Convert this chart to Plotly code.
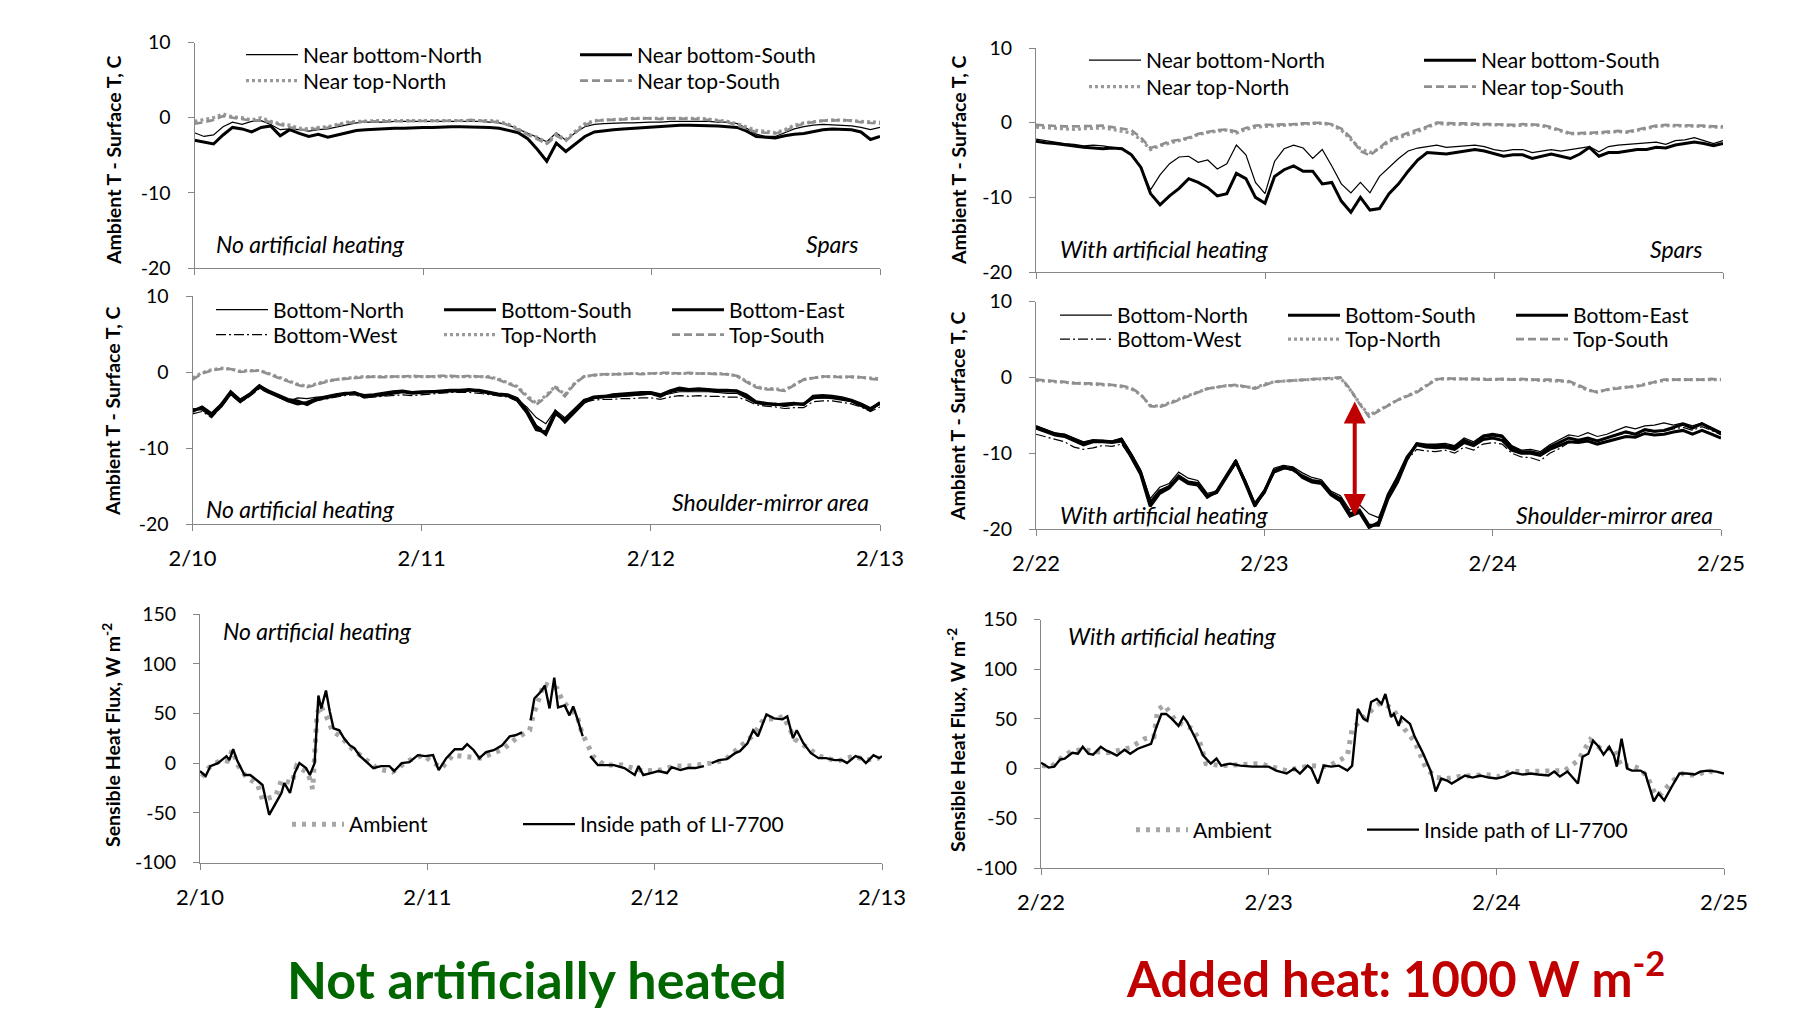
import plotly.graph_objects as go

# ---------------- data (hourly, hour 0 = first day 00:00) ----------------
HOURS = list(range(73))
LEFT_DAYS = ["2/10", "2/11", "2/12", "2/13"]
RIGHT_DAYS = ["2/22", "2/23", "2/24", "2/25"]
DAY_TICKS = [0, 24, 48, 72]
T_TICKS = [-20, -10, 0, 10]
T_LABELS = ["-20", "-10", "0", "10"]
F_TICKS = [-100, -50, 0, 50, 100, 150]
F_LABELS = ["-100", "-50", "0", "50", "100", "150"]

# Top-left: spars, no artificial heating
tl_nb_north = [-2.0,-2.5,-2.3,-1.2,-0.6,-0.9,-0.5,-0.4,-0.9,-1.6,-1.5,-1.6,
               -1.8,-1.6,-1.5,-1.2,-0.9,-0.7,-0.6,-0.6,-0.6,-0.5,-0.5,-0.5,
               -0.5,-0.5,-0.5,-0.5,-0.5,-0.5,-0.5,-0.6,-0.7,-1.0,-1.5,-2.0,
               -2.6,-3.2,-2.0,-3.0,-2.0,-1.2,-0.9,-0.8,-0.7,-0.7,-0.7,-0.6,
               -0.6,-0.6,-0.5,-0.5,-0.5,-0.5,-0.5,-0.6,-0.6,-0.8,-1.4,-2.2,
               -2.5,-2.5,-2.0,-1.5,-1.2,-1.0,-0.9,-1.0,-1.0,-1.1,-1.3,-1.6,
               -1.3]
tl_nb_south = [-3.0,-3.3,-3.5,-2.3,-1.3,-1.5,-1.9,-1.3,-1.1,-2.4,-1.6,-2.1,
               -2.5,-2.2,-2.6,-2.3,-2.0,-1.7,-1.6,-1.5,-1.5,-1.4,-1.4,-1.3,
               -1.3,-1.3,-1.2,-1.2,-1.2,-1.2,-1.2,-1.3,-1.4,-1.7,-2.0,-2.8,
               -4.2,-5.8,-3.4,-4.5,-3.5,-2.5,-1.9,-1.7,-1.6,-1.5,-1.4,-1.4,
               -1.3,-1.2,-1.1,-1.0,-1.0,-1.0,-1.1,-1.1,-1.2,-1.3,-1.8,-2.5,
               -2.6,-2.7,-2.4,-2.2,-2.1,-1.8,-1.6,-1.5,-1.5,-1.6,-1.9,-2.9,
               -2.5]
tl_nt_north = [-0.5,-0.3,0.0,0.5,0.1,0.0,-0.3,0.0,-0.5,-0.8,-1.0,-1.4,
               -1.5,-1.3,-1.2,-0.9,-0.6,-0.5,-0.4,-0.4,-0.4,-0.4,-0.3,-0.4,
               -0.4,-0.4,-0.3,-0.3,-0.3,-0.3,-0.3,-0.4,-0.5,-0.9,-1.5,-2.2,
               -2.6,-3.3,-2.2,-2.9,-1.8,-0.8,-0.4,-0.3,-0.2,-0.2,-0.1,-0.1,
               -0.1,-0.1,0.0,0.0,-0.1,-0.1,-0.2,-0.3,-0.5,-0.8,-1.3,-1.7,
               -1.8,-2.0,-1.6,-1.0,-0.7,-0.5,-0.4,-0.3,-0.3,-0.4,-0.5,-0.6,
               -0.6]
tl_nt_south = [-0.8,-0.6,-0.3,0.2,0.0,-0.2,-0.4,-0.3,-0.6,-1.0,-1.3,-1.6,
               -1.6,-1.4,-1.3,-1.0,-0.7,-0.6,-0.5,-0.5,-0.5,-0.5,-0.4,-0.4,
               -0.5,-0.5,-0.4,-0.4,-0.4,-0.3,-0.4,-0.5,-0.6,-1.0,-1.6,-2.3,
               -2.8,-3.5,-2.4,-3.1,-2.0,-1.0,-0.5,-0.3,-0.3,-0.2,-0.2,-0.1,
               -0.1,-0.2,-0.1,-0.1,-0.2,-0.2,-0.3,-0.4,-0.6,-1.0,-1.5,-1.9,
               -2.0,-2.1,-1.8,-1.2,-0.8,-0.6,-0.4,-0.4,-0.3,-0.4,-0.6,-0.7,
               -0.8]

# Middle-left: shoulder-mirror area, no artificial heating
ml_b_north = [-4.8,-5.0,-5.9,-4.2,-2.7,-4.0,-3.1,-2.1,-2.8,-3.3,-3.9,-3.4,
              -3.5,-3.3,-3.3,-3.0,-2.8,-2.8,-3.1,-3.1,-2.9,-2.7,-2.6,-2.7,
              -2.6,-2.5,-2.5,-2.4,-2.4,-2.4,-2.5,-2.7,-2.9,-3.2,-3.6,-4.6,
              -6.0,-6.8,-5.0,-6.0,-4.8,-3.6,-3.4,-3.3,-3.3,-3.2,-3.1,-3.0,
              -2.9,-3.1,-2.8,-2.6,-2.6,-2.6,-2.6,-2.7,-2.8,-2.8,-3.4,-4.1,
              -4.3,-4.2,-4.5,-4.3,-4.1,-3.5,-3.4,-3.4,-3.6,-3.9,-4.5,-4.9,
              -4.3]
ml_b_south = [-5.0,-4.8,-5.7,-4.5,-2.8,-3.9,-3.0,-1.9,-2.5,-3.0,-3.6,-3.8,
              -4.3,-3.6,-3.4,-3.1,-2.9,-2.7,-3.3,-3.1,-3.0,-2.8,-2.6,-2.8,
              -2.7,-2.6,-2.6,-2.5,-2.5,-2.4,-2.4,-2.7,-2.9,-3.0,-3.5,-5.0,
              -7.2,-8.2,-5.5,-6.3,-5.0,-3.8,-3.3,-3.2,-3.2,-3.1,-3.0,-2.9,
              -2.8,-3.2,-2.6,-2.3,-2.4,-2.3,-2.4,-2.5,-2.5,-2.5,-3.2,-4.0,
              -4.2,-4.2,-4.4,-4.2,-4.2,-3.4,-3.3,-3.4,-3.6,-3.8,-4.4,-5.0,
              -4.0]
ml_b_east = [-5.2,-4.6,-5.5,-4.3,-2.6,-3.7,-2.9,-1.8,-2.6,-3.2,-3.8,-4.2,
             -4.0,-3.5,-3.2,-3.0,-2.8,-2.8,-3.1,-3.0,-2.8,-2.6,-2.5,-2.7,
             -2.6,-2.6,-2.5,-2.4,-2.4,-2.3,-2.5,-2.8,-3.0,-3.1,-3.7,-5.3,
             -7.6,-7.9,-5.2,-6.6,-5.3,-4.0,-3.4,-3.3,-3.0,-2.9,-2.8,-2.7,
             -2.7,-3.0,-2.5,-2.1,-2.3,-2.2,-2.3,-2.4,-2.4,-2.5,-3.0,-3.9,
             -4.1,-4.3,-4.2,-4.1,-4.3,-3.2,-3.1,-3.2,-3.4,-3.7,-4.2,-4.8,
             -4.1]
ml_b_west = [-5.5,-5.2,-6.0,-4.6,-3.0,-4.0,-3.2,-2.2,-2.8,-3.1,-3.7,-4.0,
             -4.2,-3.8,-3.5,-3.3,-3.1,-3.0,-3.4,-3.3,-3.2,-3.1,-3.0,-3.1,
             -3.0,-2.9,-2.8,-2.7,-2.7,-2.7,-2.8,-3.0,-3.2,-3.3,-3.8,-5.0,
             -7.0,-7.8,-5.6,-6.4,-5.2,-4.0,-3.7,-3.6,-3.6,-3.5,-3.5,-3.4,
             -3.4,-3.6,-3.3,-3.1,-3.2,-3.1,-3.2,-3.2,-3.3,-3.3,-3.7,-4.3,
             -4.5,-4.6,-4.8,-4.7,-4.7,-3.9,-3.8,-3.8,-4.0,-4.2,-4.6,-5.2,
             -4.6]
ml_t_north = [-0.8,-0.1,0.3,0.5,0.4,0.1,0.2,0.2,-0.2,-0.7,-1.2,-1.6,
              -1.9,-1.5,-1.2,-1.0,-0.8,-0.7,-0.6,-0.6,-0.6,-0.6,-0.5,-0.5,
              -0.5,-0.5,-0.5,-0.5,-0.5,-0.5,-0.5,-0.6,-0.9,-1.4,-1.9,-3.1,
              -4.1,-3.1,-1.9,-3.0,-1.5,-0.6,-0.4,-0.3,-0.3,-0.2,-0.2,-0.2,
              -0.2,-0.1,-0.1,-0.1,-0.1,-0.2,-0.2,-0.2,-0.3,-0.5,-1.2,-1.9,
              -2.2,-2.2,-2.4,-1.7,-1.0,-0.8,-0.6,-0.6,-0.6,-0.6,-0.7,-0.8,
              -0.9]
ml_t_south = [-1.0,-0.2,0.2,0.4,0.4,0.0,0.1,0.2,-0.3,-0.8,-1.3,-1.7,
              -2.0,-1.6,-1.3,-1.0,-0.9,-0.8,-0.7,-0.6,-0.7,-0.6,-0.6,-0.5,
              -0.6,-0.6,-0.5,-0.5,-0.6,-0.5,-0.6,-0.7,-1.0,-1.5,-2.0,-3.3,
              -4.3,-3.3,-2.0,-3.2,-1.6,-0.6,-0.4,-0.3,-0.3,-0.3,-0.2,-0.3,
              -0.2,-0.1,-0.1,-0.2,-0.1,-0.2,-0.2,-0.3,-0.3,-0.5,-1.3,-2.0,
              -2.3,-2.3,-2.5,-1.8,-1.0,-0.8,-0.6,-0.6,-0.7,-0.6,-0.7,-0.9,
              -1.0]

# Top-right: spars, with artificial heating
tr_nb_north = [-2.2,-2.4,-2.6,-2.8,-2.9,-3.1,-3.0,-3.1,-3.3,-3.4,-4.2,-6.0,
               -9.0,-7.0,-5.5,-4.6,-4.5,-5.3,-5.0,-6.2,-5.5,-3.0,-4.3,-8.0,
               -9.5,-5.2,-3.5,-3.0,-3.4,-4.8,-3.6,-5.8,-8.2,-9.4,-8.0,-9.4,
               -7.2,-6.0,-4.8,-3.8,-3.4,-3.2,-3.0,-3.3,-3.2,-3.1,-3.0,-3.2,
               -3.6,-3.8,-3.6,-3.6,-4.0,-3.8,-3.6,-3.8,-3.6,-3.5,-3.2,-3.9,
               -3.2,-3.0,-2.9,-2.8,-2.7,-2.6,-2.9,-2.4,-2.3,-2.0,-2.4,-2.8,
               -2.4]
tr_nb_south = [-2.5,-2.7,-2.8,-3.0,-3.1,-3.3,-3.4,-3.5,-3.4,-3.5,-4.3,-6.0,
               -9.5,-11.0,-9.8,-8.8,-7.5,-8.0,-8.7,-9.8,-9.5,-6.8,-7.5,-10.0,
               -10.8,-7.2,-6.3,-5.8,-6.5,-6.5,-8.2,-8.0,-10.5,-12.0,-10.0,-11.7,
               -11.5,-9.5,-8.2,-6.5,-5.0,-4.0,-4.1,-4.2,-4.0,-3.8,-3.6,-3.8,
               -4.2,-4.5,-4.3,-4.3,-4.8,-4.5,-4.2,-4.5,-4.8,-4.2,-3.3,-4.5,
               -4.0,-4.0,-3.8,-3.6,-3.6,-3.3,-3.4,-3.0,-2.8,-2.6,-2.8,-3.1,
               -2.8]
tr_nt_north = [-0.6,-0.7,-0.8,-0.8,-0.9,-0.8,-0.8,-0.7,-0.9,-1.1,-1.4,-2.3,
               -3.6,-3.1,-2.7,-2.4,-2.1,-1.6,-1.3,-1.1,-1.0,-1.4,-0.9,-0.6,
               -0.5,-0.4,-0.3,-0.3,-0.2,-0.1,-0.1,-0.3,-1.0,-2.3,-3.5,-4.0,
               -3.5,-2.5,-2.0,-1.6,-1.2,-0.6,-0.1,-0.2,-0.2,-0.2,-0.3,-0.3,
               -0.3,-0.3,-0.4,-0.3,-0.3,-0.4,-0.7,-1.1,-1.5,-1.5,-1.4,-1.4,
               -1.3,-1.2,-1.3,-1.0,-0.7,-0.5,-0.4,-0.4,-0.5,-0.5,-0.5,-0.6,
               -0.6]
tr_nt_south = [-0.3,-0.4,-0.4,-0.5,-0.5,-0.5,-0.5,-0.4,-0.6,-0.8,-1.0,-2.0,
               -3.4,-3.0,-2.5,-2.3,-2.0,-1.5,-1.2,-1.0,-0.9,-1.2,-0.7,-0.4,
               -0.3,-0.3,-0.2,-0.2,-0.1,0.0,0.0,-0.2,-0.8,-2.0,-3.8,-4.4,
               -3.3,-2.3,-1.8,-1.4,-1.0,-0.5,0.0,-0.1,-0.1,-0.1,-0.2,-0.2,
               -0.2,-0.3,-0.3,-0.2,-0.2,-0.3,-0.6,-1.0,-1.4,-1.4,-1.3,-1.3,
               -1.2,-1.1,-1.2,-0.9,-0.6,-0.4,-0.3,-0.3,-0.4,-0.4,-0.4,-0.5,
               -0.5]

# Middle-right: shoulder-mirror area, with artificial heating
mr_b_north = [-6.4,-6.8,-7.3,-7.5,-8.0,-8.5,-8.2,-8.3,-8.4,-8.0,-10.0,-12.2,
              -16.0,-14.5,-14.0,-12.5,-13.3,-13.6,-15.3,-15.0,-13.0,-10.8,-13.5,-16.5,
              -14.8,-12.0,-11.6,-11.8,-12.6,-13.2,-13.5,-15.0,-15.6,-17.5,-16.8,-18.0,
              -18.5,-15.5,-13.0,-10.5,-8.6,-8.8,-8.8,-8.7,-9.0,-8.0,-8.5,-7.6,
              -7.4,-7.6,-9.0,-9.6,-9.5,-9.8,-8.9,-8.2,-7.6,-7.8,-7.3,-7.8,
              -7.5,-7.0,-6.5,-6.8,-6.4,-6.3,-6.0,-6.3,-6.0,-6.4,-6.0,-6.6,
              -7.2]
mr_b_south = [-6.5,-7.0,-7.5,-7.6,-8.2,-8.7,-8.4,-8.4,-8.5,-8.2,-10.2,-12.5,
              -16.5,-15.0,-14.4,-13.0,-13.8,-14.0,-15.6,-15.2,-13.2,-11.2,-13.8,-16.8,
              -15.2,-12.3,-11.8,-12.2,-13.0,-13.6,-13.8,-15.3,-16.0,-18.0,-17.5,-19.5,
              -19.5,-16.0,-13.8,-10.8,-8.8,-9.0,-9.0,-9.0,-9.2,-8.3,-8.8,-7.8,
              -7.6,-7.8,-9.2,-9.8,-9.8,-10.1,-9.2,-8.6,-8.0,-8.3,-8.0,-8.4,
              -8.0,-7.6,-7.2,-7.5,-6.9,-7.1,-7.0,-6.6,-6.2,-6.7,-6.1,-6.8,
              -7.4]
mr_b_east = [-6.7,-7.2,-7.6,-7.8,-8.4,-8.9,-8.5,-8.5,-8.6,-8.4,-10.5,-12.8,
             -17.0,-15.3,-14.6,-13.2,-14.0,-14.2,-15.8,-15.0,-13.0,-11.0,-14.0,-17.0,
             -15.0,-12.5,-12.0,-12.0,-13.2,-13.8,-14.0,-15.5,-16.3,-18.3,-17.8,-19.8,
             -19.2,-15.5,-13.2,-10.5,-8.9,-9.2,-9.3,-9.2,-9.5,-8.6,-9.0,-8.2,
             -8.0,-8.3,-9.6,-10.0,-10.0,-10.3,-9.5,-9.0,-8.5,-8.6,-8.4,-8.8,
             -8.5,-8.2,-7.8,-7.9,-7.4,-7.6,-7.5,-7.2,-7.0,-7.5,-7.0,-7.5,
             -8.0]
mr_b_west = [-7.5,-7.8,-8.2,-8.5,-9.2,-9.5,-9.3,-9.0,-9.1,-8.8,-10.6,-12.8,
             -16.8,-15.2,-14.6,-13.2,-14.0,-14.2,-15.8,-15.3,-13.3,-11.4,-14.0,-17.0,
             -15.3,-12.5,-12.0,-12.3,-13.2,-13.8,-14.0,-15.5,-16.2,-18.0,-17.8,-19.7,
             -19.0,-15.6,-13.2,-10.9,-9.5,-9.7,-9.8,-9.6,-10.0,-9.2,-9.6,-8.8,
             -8.6,-8.8,-10.0,-10.5,-10.6,-11.0,-10.0,-9.4,-8.6,-8.6,-8.2,-8.4,
             -8.0,-7.7,-7.3,-7.6,-7.0,-7.2,-7.1,-6.8,-6.6,-7.0,-6.5,-7.0,
             -7.6]
mr_t_north = [-0.4,-0.5,-0.6,-0.7,-0.8,-0.9,-0.9,-1.0,-1.0,-1.2,-1.5,-2.3,
              -3.7,-3.8,-3.4,-2.9,-2.4,-1.9,-1.5,-1.3,-1.1,-1.1,-1.3,-1.4,
              -0.9,-0.6,-0.5,-0.4,-0.3,-0.3,-0.2,-0.2,-0.1,-1.6,-3.4,-5.0,
              -4.4,-3.7,-3.0,-2.4,-1.9,-1.1,-0.3,-0.2,-0.2,-0.3,-0.3,-0.3,
              -0.3,-0.3,-0.3,-0.3,-0.3,-0.4,-0.4,-0.5,-0.6,-1.1,-1.7,-1.9,
              -1.6,-1.4,-1.3,-1.2,-0.9,-0.6,-0.4,-0.3,-0.3,-0.3,-0.3,-0.3,
              -0.3]
mr_t_south = [-0.3,-0.4,-0.5,-0.6,-0.8,-0.8,-0.8,-0.9,-1.0,-1.1,-1.4,-2.2,
              -3.8,-3.9,-3.5,-3.0,-2.5,-2.0,-1.5,-1.3,-1.1,-1.0,-1.2,-1.5,
              -1.0,-0.6,-0.5,-0.4,-0.3,-0.3,-0.2,-0.1,0.0,-1.5,-3.5,-5.2,
              -4.5,-3.8,-3.0,-2.5,-2.0,-1.2,-0.3,-0.1,-0.2,-0.2,-0.2,-0.3,
              -0.3,-0.2,-0.3,-0.2,-0.3,-0.3,-0.3,-0.4,-0.5,-1.0,-1.6,-2.0,
              -1.6,-1.5,-1.3,-1.2,-1.0,-0.6,-0.3,-0.3,-0.3,-0.3,-0.3,-0.2,
              -0.3]

# Sensible heat flux, (hour, W m-2) pairs; None = gap in record
bl_ambient = [(0.2,-14),(1.0,-4),(2.2,3),(2.9,2),(3.4,13),(4.0,-2),(4.8,-13),(6.1,-22),
              (6.6,-37),(8.0,-33),(8.6,-17),(9.7,-20),(10.2,-3),(11.4,-10),(11.9,-26),
              (12.2,20),(12.35,49),(12.7,58),(13.3,48),(14.0,32),(14.8,27),(16.1,14),
              (17.4,5),(18.8,-6),(20.3,-9),(21.9,2),(23.5,8),(25.5,-5),(26.7,8),(29.6,5),
              (32.0,14),(33.4,25),(34.8,33),(35.2,49),(35.8,65),(36.3,80),(37.7,75),
              (38.3,62),(39.8,48),(40.3,31),(41.5,7),(42.7,-2),(44.6,-2),(46.8,-8),
              (48.6,-7),(50.1,-3),(51.5,-3),(54.0,0),(55.4,3),(56.9,15),(58.4,28),
              (59.5,44),(60.9,45),(61.6,47),(62.2,36),(62.8,24),(64.2,15),(65.4,7),
              (67.3,2),(69.0,7),(70.3,3),(71.7,5)]
bl_inside = [(0,-8),(0.6,-13),(1.1,-3),(1.9,0),(2.8,7),(3.1,3),(3.5,14),(3.9,3),(4.7,-12),
             (5.3,-12),(6.1,-18),(6.6,-22),(7.3,-52),(8.0,-40),(8.6,-30),(8.9,-20),(9.5,-30),
             (10.0,-10),(10.5,0),(11.2,-5),(11.6,-12),(12.1,0),(12.5,68),(12.8,55),(13.3,73),
             (13.7,52),(14.1,35),(14.7,33),(15.2,25),(15.8,18),(16.3,15),(16.9,7),(17.4,3),
             (18.3,-5),(19.1,-3),(20.0,-3),(20.5,-8),(21.3,0),(22.1,1),(23.0,8),(23.8,7),
             (24.6,8),(25.2,-7),(26.0,5),(26.9,14),(27.7,14),(28.2,19),(28.9,13),(29.5,5),
             (30.2,11),(31.0,13),(31.9,18),(32.7,27),(33.3,28),(34.0,31),(34.5,None),
             (34.9,43),(35.3,65),(36.0,72),(36.4,78),(36.9,55),(37.4,86),(37.8,56),(38.5,58),
             (39.0,48),(39.4,57),(39.9,43),(40.4,27),(40.8,None),
             (41.2,7),(42.0,-2),(42.9,-2),(43.7,-2),(44.8,-5),(45.9,-12),(46.3,-3),(46.8,-12),
             (47.6,-10),(48.4,-8),(49.3,-10),(49.8,-4),(50.7,-7),(51.5,-5),(52.3,-5),(53.2,-3),
             (53.6,None),
             (54.0,0),(54.8,3),(55.6,4),(56.5,10),(57.0,12),(57.8,20),(58.4,33),(58.9,27),
             (59.8,49),(60.6,45),(61.5,44),(62.0,47),(62.6,25),(63.0,33),(63.7,20),(64.5,10),
             (65.3,5),(66.1,5),(67.0,3),(67.8,3),(68.3,0),(69.2,7),(69.8,5),(70.3,0),
             (71.1,8),(71.7,5),(72.0,7)]
br_ambient = [(0.1,3),(1.1,2),(2.3,12),(3.3,18),(4.7,19),(5.8,17),(7.1,16),(8.3,18),(9.4,21),
              (10.9,30),(11.9,32),(12.3,59),(13.0,64),(14.3,47),(16.0,40),(16.7,28),(17.4,5),
              (19.0,3),(21.5,5),(23.0,5),(25.9,-2),(28.4,3),(30.3,2),(32.3,13),(32.8,40),
              (33.7,49),(34.4,55),(35.6,65),(36.4,64),(37.2,59),(38.3,40),(39.4,27),(40.0,13),
              (40.6,0),(41.7,-9),(42.8,-10),(44.1,-8),(45.5,-7),(46.9,-6),(48.3,-8),(49.4,-3),
              (51.0,-3),(52.7,-3),(55.2,-2),(56.6,8),(57.9,29),(59.0,20),(60.4,20),(61.2,2),
              (62.1,3),(63.2,0),(64.0,-10),(64.8,-27),(65.4,-25),(66.5,-13),(67.6,-5),
              (69.0,-7),(70.3,-2),(71.4,-5)]
br_inside = [(0,6),(0.8,1),(1.4,2),(2.0,9),(2.5,10),(3.3,16),(3.9,15),(4.4,22),(5.0,15),(5.5,14),
             (6.3,22),(6.9,18),(7.4,16),(8.0,13),(8.8,19),(9.4,15),(10.2,20),(11.0,23),(11.6,25),
             (12.1,40),(12.7,55),(13.2,55),(13.8,50),(14.5,43),(15.0,52),(15.4,47),(16.3,30),
             (17.1,13),(17.9,5),(18.5,10),(19.0,3),(19.9,5),(21.0,3),(22.3,2),(24.0,2),(24.8,-2),
             (25.9,-5),(26.7,0),(27.3,-5),(28.1,3),(28.5,0),(29.2,-15),(29.8,3),(30.6,2),
             (31.4,3),(32.3,-2),(32.8,3),(33.4,60),(34.0,50),(34.4,48),(34.8,67),(35.4,70),
             (35.9,65),(36.3,75),(36.9,52),(37.2,55),(37.7,43),(38.0,52),(38.9,45),(39.4,32),
             (40.3,15),(41.1,-3),(41.6,-23),(42.2,-10),(42.8,-12),(43.3,-15),(44.1,-10),
             (44.7,-7),(45.5,-9),(46.3,-7),(47.2,-9),(48.0,-10),(48.8,-8),(49.7,-4),(50.8,-6),
             (51.6,-5),(52.4,-6),(53.5,-7),(54.1,-3),(54.7,-8),(55.5,-3),(56.0,-8),(56.6,-15),
             (57.1,12),(57.7,15),(58.2,28),(58.8,22),(59.3,14),(59.9,22),(60.4,13),(60.7,2),
             (61.2,30),(61.8,0),(62.3,-2),(63.2,-2),(63.7,-5),(64.6,-33),(65.1,-25),(65.7,-32),
             (66.5,-18),(67.3,-5),(68.1,-5),(68.9,-6),(69.5,-3),(70.3,-2),(71.2,-3),(72.0,-5)]

# red arrow marking the heating effect (hour, top value, bottom value)
ARROW = (33.5, -3.0, -18.3)

# ---------------- styling ----------------
W, H = 1793, 1010
FONT = "Lato, 'Liberation Sans', Arial, sans-serif"
AXIS_GREY = "#868686"
GREY = "#999999"

def dom_x(a, b):
    return [a / W, b / W]

def dom_y(top, bottom):
    return [1 - bottom / H, 1 - top / H]

panels = {
    1: dict(x=(194.5, 880), y=(42.5, 268), kind="T", labels=None),
    2: dict(x=(192.5, 880), y=(296, 524), kind="T", labels=LEFT_DAYS),
    3: dict(x=(200, 882), y=(614, 862.5), kind="F", labels=LEFT_DAYS),
    4: dict(x=(1036, 1723), y=(48, 272), kind="T", labels=None),
    5: dict(x=(1036, 1721), y=(301.5, 529), kind="T", labels=RIGHT_DAYS),
    6: dict(x=(1041, 1724), y=(619.5, 868), kind="F", labels=RIGHT_DAYS),
}

fig = go.Figure()

THIN = dict(color="black", width=1.2)
THICK = dict(color="black", width=3)
DOTTED = dict(color=GREY, width=3.2, dash="3px,3px")
DASHED = dict(color="#8f8f8f", width=2.6, dash="8px,4px")
DASHDOT = dict(color="black", width=1.2, dash="10px,3px,2px,3px")
AMB = dict(color="#a6a6a6", width=5, dash="4px,6px")
INS = dict(color="black", width=2.4)

def add_line(n, x, y, name, line, legend):
    ax = "" if n == 1 else str(n)
    fig.add_trace(go.Scatter(x=x, y=y, mode="lines", name=name, line=line,
                             xaxis="x" + ax, yaxis="y" + ax, legend=legend,
                             connectgaps=False, hoverinfo="skip"))

add_line(1, HOURS, tl_nb_north, "Near bottom-North", THIN, "legend")
add_line(1, HOURS, tl_nb_south, "Near bottom-South", THICK, "legend")
add_line(1, HOURS, tl_nt_north, "Near top-North", DOTTED, "legend2")
add_line(1, HOURS, tl_nt_south, "Near top-South", DASHED, "legend2")

add_line(4, HOURS, tr_nb_north, "Near bottom-North", THIN, "legend3")
add_line(4, HOURS, tr_nb_south, "Near bottom-South", THICK, "legend3")
add_line(4, HOURS, tr_nt_north, "Near top-North", DOTTED, "legend4")
add_line(4, HOURS, tr_nt_south, "Near top-South", DASHED, "legend4")

add_line(2, HOURS, ml_b_north, "Bottom-North", THIN, "legend5")
add_line(2, HOURS, ml_b_south, "Bottom-South", THICK, "legend5")
add_line(2, HOURS, ml_b_east, "Bottom-East", THICK, "legend5")
add_line(2, HOURS, ml_b_west, "Bottom-West", DASHDOT, "legend6")
add_line(2, HOURS, ml_t_north, "Top-North", DOTTED, "legend6")
add_line(2, HOURS, ml_t_south, "Top-South", DASHED, "legend6")

add_line(5, HOURS, mr_b_north, "Bottom-North", THIN, "legend7")
add_line(5, HOURS, mr_b_south, "Bottom-South", THICK, "legend7")
add_line(5, HOURS, mr_b_east, "Bottom-East", THICK, "legend7")
add_line(5, HOURS, mr_b_west, "Bottom-West", DASHDOT, "legend8")
add_line(5, HOURS, mr_t_north, "Top-North", DOTTED, "legend8")
add_line(5, HOURS, mr_t_south, "Top-South", DASHED, "legend8")

def unzip(pairs):
    return [p[0] for p in pairs], [p[1] for p in pairs]

add_line(3, *unzip(bl_ambient), "Ambient", AMB, "legend9")
add_line(3, *unzip(bl_inside), "Inside path of LI-7700", INS, "legend11")
add_line(6, *unzip(br_ambient), "Ambient", AMB, "legend10")
add_line(6, *unzip(br_inside), "Inside path of LI-7700", INS, "legend12")

layout = dict(width=W, height=H, template="none",
              margin=dict(l=0, r=0, t=0, b=0, pad=0, autoexpand=False),
              paper_bgcolor="white", plot_bgcolor="white", showlegend=True,
              font=dict(family=FONT, size=20, color="black"))

for n, p in panels.items():
    ax = "" if n == 1 else str(n)
    xa = dict(domain=dom_x(*p["x"]), anchor="y" + ax, range=[0, 72],
              tickmode="array", tickvals=DAY_TICKS, showgrid=False, zeroline=False,
              showline=True, linecolor=AXIS_GREY, linewidth=1, automargin=False,
              ticks="outside", ticklen=6, tickwidth=1, tickcolor=AXIS_GREY,
              tickfont=dict(size=22, family=FONT, color="black"), fixedrange=True)
    if p["labels"]:
        xa.update(ticktext=p["labels"], showticklabels=True, ticklabelstandoff=9)
    else:
        xa.update(showticklabels=False)
    if p["kind"] == "T":
        rng, tv, tt = [-20, 10], T_TICKS, T_LABELS
    else:
        rng, tv, tt = [-100, 150], F_TICKS, F_LABELS
    ya = dict(domain=dom_y(*p["y"]), anchor="x" + ax, range=rng, tickmode="array",
              tickvals=tv, ticktext=tt, showgrid=False, zeroline=False, showline=True,
              linecolor=AXIS_GREY, linewidth=1, ticks="outside", ticklen=6, tickwidth=1,
              tickcolor=AXIS_GREY, automargin=False, fixedrange=True,
              tickfont=dict(size=19.5, family=FONT, color="black"), ticklabelstandoff=13)
    layout["xaxis" + ax] = xa
    layout["yaxis" + ax] = ya

def leg(sample_x, ypx, ew):
    return dict(orientation="h", x=(sample_x - 8) / W, y=1 - ypx / H, xanchor="left",
                yanchor="middle", bgcolor="rgba(0,0,0,0)", borderwidth=0,
                entrywidth=ew, entrywidthmode="pixels", itemwidth=52,
                font=dict(size=21, family=FONT, color="black"), tracegroupgap=0,
                itemclick=False, itemdoubleclick=False)

layout["legend"] = leg(249, 55, 267)
layout["legend2"] = leg(249, 81, 267)
layout["legend3"] = leg(1092, 60.5, 268)
layout["legend4"] = leg(1092, 87, 268)
layout["legend5"] = leg(219, 310, 161)
layout["legend6"] = leg(219, 335, 161)
layout["legend7"] = leg(1063, 315.5, 161)
layout["legend8"] = leg(1063, 339.5, 161)
layout["legend9"] = leg(295, 824.5, 0)
layout["legend11"] = leg(526, 824.5, 0)
layout["legend10"] = leg(1139, 830, 0)
layout["legend12"] = leg(1370, 830, 0)

fig.update_layout(**layout)

ann = []
def ytitle(xpx, ypx, text):
    ann.append(dict(x=xpx / W, y=1 - ypx / H, xref="paper", yref="paper",
                    text=text, textangle=-90, showarrow=False,
                    font=dict(size=19.5, family=FONT, color="black"),
                    xanchor="center", yanchor="middle"))

TT = "<b>Ambient T - Surface T, C</b>"
FT = "<b>Sensible Heat Flux, W m<sup>-2</sup></b>"
ytitle(113, 160, TT)
ytitle(113, 411, TT)
ytitle(111, 735, FT)
ytitle(958, 160, TT)
ytitle(958, 416, TT)
ytitle(956, 740, FT)

def note(xpx, ypx, text, anchor):
    ann.append(dict(x=xpx / W, y=1 - ypx / H, xref="paper", yref="paper",
                    text="<i>" + text + "</i>", showarrow=False,
                    font=dict(size=23, family=FONT, color="black"),
                    xanchor=anchor, yanchor="middle"))

note(214, 243.5, "No artificial heating", "left")
note(860, 243.5, "Spars", "right")
note(203.5, 509, "No artificial heating", "left")
note(871, 502, "Shoulder-mirror area", "right")
note(220.7, 631, "No artificial heating", "left")
note(1058, 249, "With artificial heating", "left")
note(1704, 249, "Spars", "right")
note(1058, 514.6, "With artificial heating", "left")
note(1715, 514.6, "Shoulder-mirror area", "right")
note(1066, 635.8, "With artificial heating", "left")

ann.append(dict(x=537 / W, y=1 - 979 / H, xref="paper", yref="paper",
                text="<b>Not artificially heated</b>", showarrow=False,
                font=dict(size=52, family=FONT, color="#006600"),
                xanchor="center", yanchor="middle"))
ann.append(dict(x=1395 / W, y=1 - 974 / H, xref="paper", yref="paper",
                text="<b>Added heat: 1000 W m<sup>-2</sup></b>", showarrow=False,
                font=dict(size=49, family=FONT, color="#c00000"),
                xanchor="center", yanchor="middle"))

# double-headed red arrow in the shoulder-mirror panel
ann.append(dict(x=ARROW[0], y=ARROW[2], ax=ARROW[0], ay=ARROW[1],
                xref="x5", yref="y5", axref="x5", ayref="y5", text="",
                showarrow=True, arrowhead=2, startarrowhead=2, arrowside="end+start",
                arrowsize=1.1, startarrowsize=1.1, arrowwidth=4, arrowcolor="#c00000"))

fig.update_layout(annotations=ann)
fig.write_html("out.html",
               config={"displayModeBar": False, "staticPlot": False},
               post_script="document.body.style.margin='0px';"
                           "document.body.style.overflow='hidden';")
